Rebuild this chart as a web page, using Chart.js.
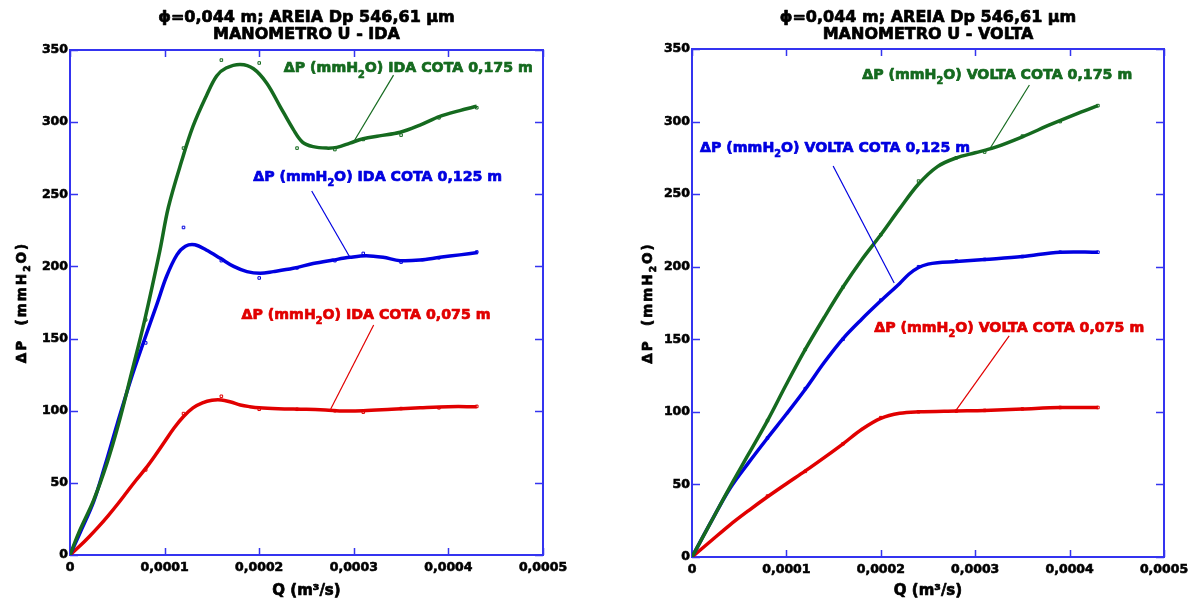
<!DOCTYPE html>
<html>
<head>
<meta charset="utf-8">
<style>
  html, body { margin: 0; padding: 0; background: #fff; overflow: hidden; }
  #wrap { position: relative; width: 1204px; height: 603px; }
  canvas { position: absolute; top: 0; }
  #idaChart { left: 0; }
  #voltaChart { left: 602px; }
</style>
<script src="https://cdn.jsdelivr.net/npm/chart.js@4.4.1/dist/chart.umd.min.js"></script>
</head>
<body>
<div id="wrap">
  <canvas id="idaChart" width="602" height="603"></canvas>
  <canvas id="voltaChart" width="602" height="603"></canvas>
</div>
<script>
// Q in m3/s, dP in mmH2O
const qIdaGreen = [0, 0.000009, 0.000025, 0.000039, 0.000051, 0.000065, 0.000079, 0.000095, 0.000104, 0.000118, 0.00013, 0.000144, 0.000155, 0.000165, 0.00018, 0.000194, 0.000208, 0.000222, 0.000236, 0.000246, 0.000257, 0.000271, 0.000282, 0.000296, 0.00031, 0.000327, 0.000349, 0.00037, 0.000391, 0.000412, 0.00043];
const dpIdaGreen = [0, 15, 38, 63.5, 90, 126, 163, 211, 241, 273, 297, 318, 332, 337.5, 340, 337, 327, 311, 295, 286, 283, 282, 282.5, 285.5, 288.5, 290.5, 293, 298, 304, 308, 311];

const qIdaBlue = [0, 0.000011, 0.000025, 0.000037, 0.00005, 0.000064, 0.000078, 0.000092, 0.000102, 0.000113, 0.000122, 0.000132, 0.000144, 0.000159, 0.000173, 0.000187, 0.000201, 0.000215, 0.000236, 0.000257, 0.000278, 0.000296, 0.000313, 0.000331, 0.000349, 0.00037, 0.000391, 0.000412, 0.000431];
const dpIdaBlue = [0, 16, 37, 62, 91, 121, 148, 174, 193, 208, 214, 215, 211.4, 205.6, 200, 196.4, 195.2, 196.4, 198.7, 202, 204.4, 206.3, 207.4, 206.3, 204, 204.4, 206.3, 208, 209.7];

const qIdaRed = [0, 0.00001, 0.00002, 0.00003, 0.00004, 0.00005, 0.00006, 0.00007, 0.00008, 0.00009, 0.0001, 0.00011, 0.00012, 0.00013, 0.00014, 0.00015, 0.00016, 0.00017, 0.00018, 0.00019, 0.0002, 0.00022, 0.00025, 0.00027, 0.00029, 0.00031, 0.00034, 0.00037, 0.0004, 0.00043];
const dpIdaRed = [0, 6, 12.5, 19.5, 27, 35, 43.5, 52, 60, 69, 78.5, 88, 96, 102, 105.5, 107.3, 107.5, 106, 104, 102.8, 102, 101.4, 101, 100.5, 99.8, 100, 101, 102, 102.8, 102.8];

const qVoltaGreen = [0, 0.00002, 0.00004, 0.00006, 0.00008, 0.0001, 0.00012, 0.00014, 0.00016, 0.00018, 0.0002, 0.00022, 0.00024, 0.00026, 0.00028, 0.0003, 0.00032, 0.00035, 0.00038, 0.00041, 0.00043];
const dpVoltaGreen = [0, 24, 48, 71, 94, 119, 143, 165, 186, 205, 222, 240, 257, 269, 275, 278.5, 282, 289.5, 298, 306, 311];

const qVoltaBlue = [0, 0.00002, 0.00004, 0.00006, 0.00008, 0.0001, 0.00012, 0.00014, 0.00016, 0.00018, 0.0002, 0.00022, 0.00023, 0.00024, 0.00025, 0.00026, 0.00028, 0.00031, 0.00035, 0.00039, 0.00043];
const dpVoltaBlue = [0, 24, 47, 65, 82, 98.5, 115.6, 134, 150.5, 164, 176.5, 188.5, 195, 199.5, 201.8, 202.8, 203.6, 205, 207, 210, 210];

const qVoltaRed = [0, 0.00002, 0.00004, 0.00006, 0.00008, 0.0001, 0.00012, 0.00014, 0.00016, 0.00018, 0.0002, 0.00022, 0.00024, 0.00028, 0.00031, 0.00035, 0.00039, 0.00043];
const dpVoltaRed = [0, 11, 22, 32, 41.5, 50.5, 59.3, 68.5, 78, 88, 95.5, 99, 100, 100.6, 101, 102, 103, 103];

// measured points (markers)
const qMarks = [0, 0.00008, 0.00012, 0.00016, 0.0002, 0.00024, 0.00028, 0.00031, 0.00035, 0.00039, 0.00043];
const idaMarksGreen = [0, 163, 282, 343, 341, 282, 281, 288, 291, 303, 310];
const idaMarksBlue = [0, 147, 227, 204, 192, 199, 204, 209, 203, 206, 210];
const idaMarksRed = [0, 59, 98, 110, 101, 101, 100, 99, 101.5, 102, 103];
const voltaMarksGreen = [0, 94, 143, 186, 222, 259, 275, 279, 290, 300, 311];
const voltaMarksBlue = [0, 82, 116, 150, 177, 200, 204, 205, 207, 210, 210];
const voltaMarksRed = [0, 42, 59, 78, 96, 100, 100.5, 101, 102, 103, 103];

const qTicks = [0, 0.0001, 0.0002, 0.0003, 0.0004, 0.0005];
const dpTicks = [0, 50, 100, 150, 200, 250, 300, 350];

const titleLine1 = 'ϕ=0,044 m; AREIA Dp 546,61 μm';
const idaTitle = [titleLine1, 'MANOMETRO U - IDA'];
const voltaTitle = [titleLine1, 'MANOMETRO U - VOLTA'];
const idaLabels = ['ΔP (mmH₂O) IDA COTA 0,175 m', 'ΔP (mmH₂O) IDA COTA 0,125 m', 'ΔP (mmH₂O) IDA COTA 0,075 m'];
const voltaLabels = ['ΔP (mmH₂O) VOLTA COTA 0,175 m', 'ΔP (mmH₂O) VOLTA COTA 0,125 m', 'ΔP (mmH₂O) VOLTA COTA 0,075 m'];
const yTitle = 'ΔP  (mmH₂O)';
const xTitle = 'Q (m³/s)';

const GREEN = '#156a1f';
const BLUE = '#0000e0';
const RED = '#e10000';
const FRAME = '#3434f0';
const FONT = '"DejaVu Sans", "Liberation Sans", Arial, sans-serif';

function pts(xs, ys) {
  return xs.map((x, i) => ({ x: x, y: ys[i] }));
}

function fmtQ(v) {
  if (Math.abs(v) < 1e-9) return '0';
  return v.toFixed(4).replace('.', ',');
}

// fill plus a thin stroke so the lettering comes out heavy
function heavy(ctx, s, x, y, color) {
  ctx.fillStyle = color;
  ctx.strokeStyle = color;
  ctx.lineWidth = 0.7;
  ctx.lineJoin = 'round';
  ctx.fillText(s, x, y);
  ctx.strokeText(s, x, y);
}

// text with "₂" drawn as a small lowered 2
function drawSubText(ctx, text, x, y, size, color) {
  const parts = text.split('₂');
  ctx.textBaseline = 'middle';
  ctx.textAlign = 'left';
  let cx = x;
  parts.forEach((p, i) => {
    ctx.font = 'bold ' + size + 'px ' + FONT;
    heavy(ctx, p, cx, y, color);
    cx += ctx.measureText(p).width;
    if (i < parts.length - 1) {
      ctx.font = 'bold ' + (size * 0.68) + 'px ' + FONT;
      heavy(ctx, '2', cx, y + size * 0.45, color);
      cx += ctx.measureText('2').width;
    }
  });
  return cx - x;
}

function subTextWidth(ctx, text, size) {
  const parts = text.split('₂');
  let w = 0;
  parts.forEach((p, i) => {
    ctx.font = 'bold ' + size + 'px ' + FONT;
    w += ctx.measureText(p).width;
    if (i < parts.length - 1) {
      ctx.font = 'bold ' + (size * 0.68) + 'px ' + FONT;
      w += ctx.measureText('2').width;
    }
  });
  return w;
}

// blue box around the plot with inward ticks on all four sides
const framePlugin = {
  id: 'frame',
  beforeDatasetsDraw(chart) {
    const { ctx, chartArea: a, scales } = chart;
    ctx.save();
    ctx.strokeStyle = FRAME;
    ctx.lineWidth = 2;
    ctx.strokeRect(a.left, a.top, a.right - a.left, a.bottom - a.top);
    ctx.lineWidth = 1.5;
    ctx.beginPath();
    qTicks.forEach(v => {
      const px = Math.round(scales.x.getPixelForValue(v)) + 0.5;
      ctx.moveTo(px, a.bottom); ctx.lineTo(px, a.bottom - 7);
      ctx.moveTo(px, a.top); ctx.lineTo(px, a.top + 7);
    });
    dpTicks.forEach(v => {
      const py = Math.round(scales.y.getPixelForValue(v)) + 0.5;
      ctx.moveTo(a.left, py); ctx.lineTo(a.left + 8, py);
      ctx.moveTo(a.right, py); ctx.lineTo(a.right - 8, py);
    });
    ctx.stroke();
    ctx.restore();
  }
};

// titles, axis titles and the curve labels with their leader lines
const labelPlugin = {
  id: 'curveLabels',
  afterDraw(chart, args, opts) {
    const { ctx, chartArea: a, scales } = chart;
    const cx = (a.left + a.right) / 2;

    ctx.save();
    ctx.textAlign = 'center';
    ctx.textBaseline = 'middle';
    ctx.font = 'bold 16px ' + FONT;
    opts.title.forEach((line, i) => heavy(ctx, line, cx, 17.5 + i * 17, '#000'));
    ctx.font = 'bold 15px ' + FONT;
    heavy(ctx, xTitle, cx, chart.height - 12, '#000');
    ctx.restore();

    ctx.save();
    ctx.letterSpacing = '2px';
    const w = subTextWidth(ctx, yTitle, 13.5);
    ctx.translate(opts.yTitleX, (a.top + a.bottom) / 2);
    ctx.rotate(-Math.PI / 2);
    drawSubText(ctx, yTitle, -w / 2, 0, 13.5, '#000');
    ctx.restore();

    (opts.items || []).forEach(it => {
      const x = scales.x.getPixelForValue(it.at[0]);
      const y = scales.y.getPixelForValue(it.at[1]);
      ctx.save();
      ctx.strokeStyle = it.color;
      ctx.lineWidth = 1.2;
      ctx.beginPath();
      ctx.moveTo(scales.x.getPixelForValue(it.line[0][0]), scales.y.getPixelForValue(it.line[0][1]));
      ctx.lineTo(scales.x.getPixelForValue(it.line[1][0]), scales.y.getPixelForValue(it.line[1][1]));
      ctx.stroke();
      drawSubText(ctx, it.text, x, y, 14.2, it.color);
      ctx.restore();
    });
  }
};

function curve(xs, ys, color) {
  return {
    data: pts(xs, ys),
    borderColor: color,
    borderWidth: 3.5,
    pointRadius: 0,
    tension: 0.35,
    fill: false
  };
}

function marks(ys, color) {
  return {
    data: pts(qMarks, ys),
    showLine: false,
    pointStyle: 'rect',
    pointRadius: 1.8,
    borderWidth: 1,
    borderColor: color,
    backgroundColor: 'rgba(0,0,0,0)'
  };
}

function makeChart(id, title, datasets, items, geo) {
  const tickFont = { family: FONT, weight: 'bold', size: 12.5 };
  return new Chart(document.getElementById(id), {
    type: 'line',
    data: { datasets: datasets },
    options: {
      responsive: false,
      animation: false,
      layout: { padding: { left: 0, right: geo.padRight, top: geo.top, bottom: 0 } },
      plugins: {
        legend: { display: false },
        tooltip: { enabled: false },
        title: { display: false },
        curveLabels: { items: items, title: title, yTitleX: geo.yTitleX }
      },
      scales: {
        x: {
          type: 'linear',
          min: 0,
          max: 0.0005,
          grid: { display: false, drawTicks: false },
          border: { display: false },
          ticks: {
            stepSize: 0.0001,
            autoSkip: false,
            maxRotation: 0,
            padding: 5,
            color: '#000',
            textStrokeColor: '#000',
            textStrokeWidth: 0.6,
            font: tickFont,
            callback: v => fmtQ(v)
          },
          afterFit(s) {
            s.height = geo.xAxisH;
            s.paddingLeft = 0;
            s.paddingRight = 0;
          }
        },
        y: {
          type: 'linear',
          min: 0,
          max: 350,
          grid: { display: false, drawTicks: false },
          border: { display: false },
          ticks: {
            stepSize: 50,
            padding: 2,
            color: '#000',
            textStrokeColor: '#000',
            textStrokeWidth: 0.6,
            font: tickFont
          },
          afterFit(s) {
            s.width = geo.yAxisW;
            s.paddingTop = 0;
            s.paddingBottom = 0;
          }
        }
      }
    },
    plugins: [framePlugin, labelPlugin]
  });
}

makeChart('idaChart', idaTitle, [
  curve(qIdaGreen, dpIdaGreen, GREEN),
  curve(qIdaBlue, dpIdaBlue, BLUE),
  curve(qIdaRed, dpIdaRed, RED),
  marks(idaMarksGreen, GREEN),
  marks(idaMarksBlue, BLUE),
  marks(idaMarksRed, RED)
], [
  { text: idaLabels[0], color: GREEN, at: [0.000226, 337], line: [[0.000342, 332.6], [0.000301, 287.6]] },
  { text: idaLabels[1], color: BLUE, at: [0.0001936, 262], line: [[0.0002555, 252.3], [0.0002957, 206.5]] },
  { text: idaLabels[2], color: RED, at: [0.0001813, 166.3], line: [[0.000321, 159.4], [0.0002756, 101.2]] }
], { padRight: 59, top: 50, xAxisH: 48, yAxisW: 70, yTitleX: 22 });

makeChart('voltaChart', voltaTitle, [
  curve(qVoltaGreen, dpVoltaGreen, GREEN),
  curve(qVoltaBlue, dpVoltaBlue, BLUE),
  curve(qVoltaRed, dpVoltaRed, RED),
  marks(voltaMarksGreen, GREEN),
  marks(voltaMarksBlue, BLUE),
  marks(voltaMarksRed, RED)
], [
  { text: voltaLabels[0], color: GREEN, at: [0.0001803, 332], line: [[0.0003574, 325.2], [0.000316, 281.8]] },
  { text: voltaLabels[1], color: BLUE, at: [0.0000085, 281.8], line: [[0.0001495, 269.4], [0.0002142, 188.8]] },
  { text: voltaLabels[2], color: RED, at: [0.000193, 157.8], line: [[0.000336, 152.3], [0.00028, 101.3]] }
], { padRight: 40, top: 49, xAxisH: 46, yAxisW: 90, yTitleX: 46 });
</script>
</body>
</html>
